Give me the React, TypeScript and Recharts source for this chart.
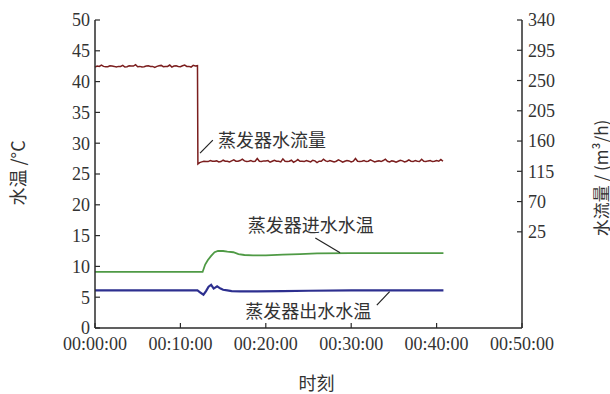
import {
  LineChart,
  Line,
  XAxis,
  YAxis,
  ReferenceLine,
  ReferenceDot,
} from "recharts";

// time axis (minutes)
const timeTicks = [0, 10, 20, 30, 40, 50];
const tempTicks = [0, 5, 10, 15, 20, 25, 30, 35, 40, 45, 50];
const flowTicks = [25, 70, 115, 160, 205, 250, 295, 340];

// evaporator water flow (m3/h), sampled every 0.25 min
const flowStep = 0.25;
const flowBefore = [
  270, 271.5, 271, 273, 271, 270.5, 270.5, 272, 271.5, 271,
  270, 271, 271, 272.5, 270, 270.5, 272, 271.5, 271.5, 273.5,
  270.5, 271, 270, 270.5, 271.5, 272, 271, 271, 269.5, 271,
  272, 272.5, 270.5, 271, 271, 273, 270, 271.5, 272, 271,
  270.5, 272, 273, 271, 271, 270, 272.5, 271.5, 272,
];
const flowDropTime = 12.05;
const flowDropValue = 126;
const flowAfterStart = 12.25;
const flowAfter = [
  128, 129, 130, 129.5, 129.5, 131, 130, 130, 130.5, 129,
  129.5, 131.5, 130, 130, 129, 130.5, 132, 130, 130, 131,
  133, 130.5, 129.5, 130, 131, 129.5, 130, 134, 130, 129.5,
  130.5, 130.5, 131, 128.5, 130, 131.5, 130, 130, 129, 133.5,
  130, 129.5, 130, 131.5, 128.5, 130, 132.5, 130, 130, 129.5,
  131, 130, 129, 131.5, 130.5, 128, 130, 130, 133, 130.5,
  129.5, 131, 130, 129, 130, 132, 130.5, 128.5, 130, 131,
  130.5, 129, 130, 134, 130, 129.5, 130, 131, 129.5, 130,
  132, 130.5, 129, 130, 130.5, 129.5, 131, 133, 130, 129,
  130.5, 130, 128.5, 130, 131.5, 130.5, 129, 130, 132, 130,
  129.5, 131, 130, 129.5, 133, 130, 129.5, 130.5, 131, 129.5,
  130, 131, 130, 132.5, 130,
];

// evaporator inlet water temp (°C)
const inletTimes = [0, 12.6, 12.9, 13.2, 13.6, 14.0, 14.4, 15.0, 15.5, 16.2, 16.8, 17.5, 18.5, 20, 22, 24, 26, 30, 35, 40.8];
const inletTemps = [9.1, 9.1, 10.3, 11.0, 11.7, 12.3, 12.5, 12.5, 12.4, 12.3, 12.0, 11.85, 11.8, 11.8, 11.9, 12.0, 12.1, 12.15, 12.15, 12.15];

// evaporator outlet water temp (°C)
const outletTimes = [0, 12.0, 12.3, 12.7, 13.0, 13.3, 13.6, 13.9, 14.3, 14.7, 15.0, 15.5, 16, 17, 19, 22, 25, 30, 40.8];
const outletTemps = [6.1, 6.1, 5.8, 5.4, 6.0, 6.7, 7.0, 6.4, 6.75, 6.4, 6.2, 6.1, 6.0, 5.95, 5.95, 6.0, 6.05, 6.1, 6.1];

const flowData = [
  ...flowBefore.map((v, i) => ({ t: i * flowStep, flow: v })),
  { t: flowDropTime, flow: flowDropValue },
  ...flowAfter.map((v, i) => ({ t: flowAfterStart + i * flowStep, flow: v })),
];
const inletData = inletTimes.map((t, i) => ({ t, inlet: inletTemps[i] }));
const outletData = outletTimes.map((t, i) => ({ t, outlet: outletTemps[i] }));

const FONT = "'Liberation Serif', 'Noto Sans CJK SC', serif";
const CJK = "'Noto Sans CJK SC', sans-serif";
const AXIS = "#2b2b2b";
const TEXT = "#333";

const fmtTime = (m: number) => `00:${String(m).padStart(2, "0")}:00`;

export default function App() {
  const tickStyle = { fill: TEXT, fontSize: 18, fontFamily: FONT };
  return (
    <div style={{ position: "absolute", left: 0, top: 0, background: "#fff" }}>
      <LineChart
        width={610}
        height={394}
        margin={{ top: 20, right: 38, left: 35, bottom: 36 }}
      >
        <XAxis
          xAxisId="t"
          dataKey="t"
          type="number"
          domain={[0, 50]}
          ticks={timeTicks}
          tickFormatter={fmtTime}
          allowDuplicatedCategory={false}
          height={30}
          tick={tickStyle}
          tickSize={-5}
          tickMargin={14}
          axisLine={{ stroke: AXIS, strokeWidth: 1.5 }}
          tickLine={{ stroke: AXIS, strokeWidth: 1.2 }}
          label={{
            content: ({ viewBox }: any) => (
              <text
                x={viewBox.x + viewBox.width / 2 + 8}
                y={viewBox.y + 54}
                textAnchor="middle"
                dominantBaseline="central"
                fontSize={18}
                fontFamily={CJK}
                fill={TEXT}
              >
                时刻
              </text>
            ),
          }}
        />
        <YAxis
          yAxisId="temp"
          orientation="left"
          domain={[0, 50]}
          ticks={tempTicks}
          width={60}
          tick={tickStyle}
          tickSize={-5}
          tickMargin={10}
          axisLine={{ stroke: AXIS, strokeWidth: 1.5 }}
          tickLine={{ stroke: AXIS, strokeWidth: 1.2 }}
          label={{
            content: ({ viewBox }: any) => {
              const cx = viewBox.x - 18;
              const cy = viewBox.y + viewBox.height / 2 - 1;
              return (
                <text
                  x={cx}
                  y={cy}
                  transform={`rotate(-90 ${cx} ${cy})`}
                  textAnchor="middle"
                  dominantBaseline="central"
                  fontSize={18}
                  fontFamily={CJK}
                  fill={TEXT}
                >
                  水温 /°C
                </text>
              );
            },
          }}
        />
        <YAxis
          yAxisId="flow"
          orientation="right"
          domain={[-118, 340]}
          ticks={flowTicks}
          width={50}
          tick={tickStyle}
          tickSize={-5}
          tickMargin={11}
          axisLine={{ stroke: AXIS, strokeWidth: 1.5 }}
          tickLine={{ stroke: AXIS, strokeWidth: 1.2 }}
          label={{
            content: ({ viewBox }: any) => {
              const cx = viewBox.x + viewBox.width + 28;
              const cy = 178;
              return (
                <text
                  x={cx}
                  y={cy}
                  transform={`rotate(-90 ${cx} ${cy})`}
                  textAnchor="middle"
                  dominantBaseline="central"
                  fontSize={17}
                  fontFamily={CJK}
                  fill={TEXT}
                >
                  水流量 / (m³/h)
                </text>
              );
            },
          }}
        />

        <Line
          xAxisId="t"
          yAxisId="flow"
          data={flowData}
          dataKey="flow"
          type="linear"
          stroke="#7b1e1e"
          strokeWidth={1.5}
          dot={false}
          isAnimationActive={false}
        />
        <Line
          xAxisId="t"
          yAxisId="temp"
          data={inletData}
          dataKey="inlet"
          type="linear"
          stroke="#4f9a45"
          strokeWidth={1.8}
          dot={false}
          isAnimationActive={false}
        />
        <Line
          xAxisId="t"
          yAxisId="temp"
          data={outletData}
          dataKey="outlet"
          type="linear"
          stroke="#2d2f8f"
          strokeWidth={2.2}
          dot={false}
          isAnimationActive={false}
        />

        {/* leader lines */}
        <ReferenceLine
          xAxisId="t"
          yAxisId="temp"
          segment={[{ x: 13.8, y: 30.5 }, { x: 12.3, y: 28.4 }]}
          stroke="#222"
          strokeWidth={1.2}
        />
        <ReferenceLine
          xAxisId="t"
          yAxisId="temp"
          segment={[{ x: 25.8, y: 14.6 }, { x: 28.7, y: 12.2 }]}
          stroke="#222"
          strokeWidth={1.2}
        />
        <ReferenceLine
          xAxisId="t"
          yAxisId="temp"
          segment={[{ x: 33.0, y: 3.7 }, { x: 34.5, y: 5.9 }]}
          stroke="#222"
          strokeWidth={1.2}
        />

        {/* series annotations */}
        <ReferenceDot
          xAxisId="t"
          yAxisId="temp"
          x={14.4}
          y={30.5}
          r={0}
          stroke="none"
          label={{ value: "蒸发器水流量", position: "right", offset: 0, fontSize: 18, fontFamily: CJK, fill: TEXT }}
        />
        <ReferenceDot
          xAxisId="t"
          yAxisId="temp"
          x={17.9}
          y={16.7}
          r={0}
          stroke="none"
          label={{ value: "蒸发器进水水温", position: "right", offset: 0, fontSize: 18, fontFamily: CJK, fill: TEXT }}
        />
        <ReferenceDot
          xAxisId="t"
          yAxisId="temp"
          x={17.6}
          y={2.6}
          r={0}
          stroke="none"
          label={{ value: "蒸发器出水水温", position: "right", offset: 0, fontSize: 18, fontFamily: CJK, fill: TEXT }}
        />
      </LineChart>
    </div>
  );
}
